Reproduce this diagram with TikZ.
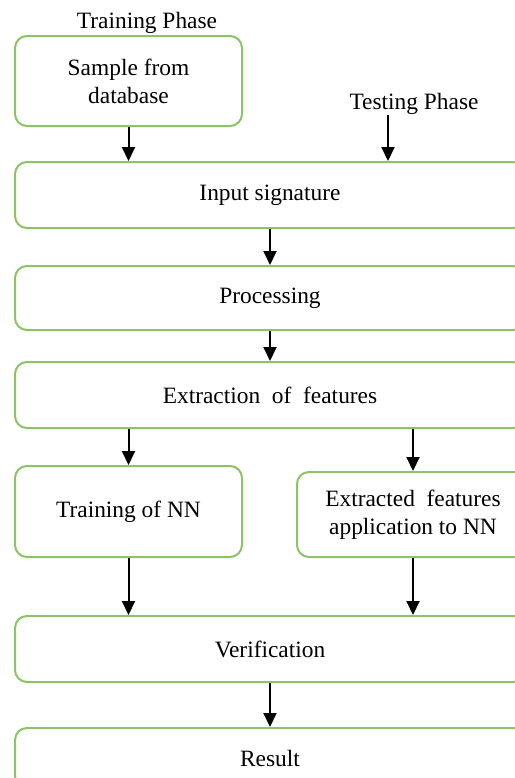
\documentclass[tikz,border=0pt]{standalone}
\usepackage{fontspec}
\setmainfont{Liberation Serif}
\usepackage{tikz}
\usetikzlibrary{positioning,arrows.meta}

\definecolor{boxgreen}{RGB}{140,195,100}

\begin{document}
\begin{tikzpicture}[x=0.5pt,y=-0.5pt,
  font=\fontsize{11.7}{14}\selectfont,
  box/.style={draw=boxgreen, line width=1pt, rounded corners=6pt, align=center, inner sep=0pt},
  widebox/.style={box, minimum width=255pt, minimum height=33pt},
  halfbox/.style={box, minimum width=113.5pt},
  arr/.style={-{Triangle[length=7pt,width=6.5pt]}, line width=1pt, black}]
\useasboundingbox (0,0) rectangle (515,778);
\clip (0,0) rectangle (515,778);

% phase labels
\node (trainphase) at (147,23) {Training Phase};
\node (testphase) at (414,104) {Testing Phase};

% boxes
\node[halfbox, minimum height=45pt] (sample) at (128.5,81) {Sample from\\database};
\node[widebox] (input) at (270,195) {Input signature};
\node[widebox, minimum height=32pt] (proc) at (270,298) {Processing};
\node[widebox] (extract) at (270,395) {Extraction \ of \ features};
\node[halfbox, minimum height=45.5pt] (train) at (128.5,511.5) {Training of NN};
\node[box, minimum width=116pt, minimum height=42.5pt] (extapp) at (413,514.5) {Extracted \ features\\application to NN};
\node[widebox] (verify) at (270,649) {Verification};
\node[widebox, minimum height=30pt] (result) at (270,758) {Result};

% arrows
\coordinate (testin) at (388,115);
\draw[arr] (sample.south) -- (sample.south |- input.north);
\draw[arr] (testin) -- (testin |- input.north);
\draw[arr] (input.south) -- (proc.north);
\draw[arr] (proc.south) -- (extract.north);
\draw[arr] (extract.south -| train.north) -- (train.north);
\draw[arr] (extract.south -| extapp.north) -- (extapp.north);
\draw[arr] (train.south) -- (train.south |- verify.north);
\draw[arr] (extapp.south) -- (extapp.south |- verify.north);
\draw[arr] (verify.south) -- (result.north);
\end{tikzpicture}
\end{document}
